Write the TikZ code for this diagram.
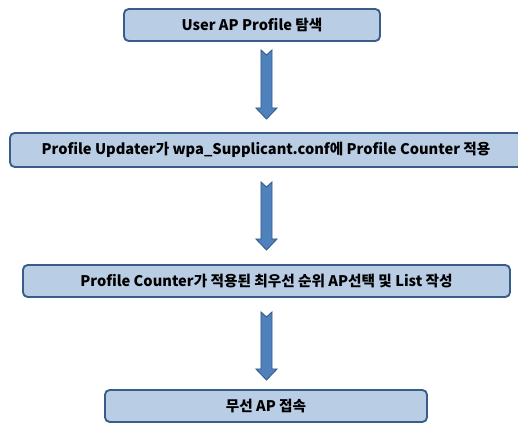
\documentclass[tikz,border=0pt]{standalone}
\usepackage{fontspec}
\setmainfont{Noto Sans CJK KR}
\usetikzlibrary{calc}
\definecolor{boxfill}{RGB}{185,205,229}
\definecolor{boxline}{RGB}{56,93,138}
\definecolor{arrfill}{RGB}{79,129,189}
\tikzset{stepbox/.style={draw=boxline,fill=boxfill,line width=1.6pt,rounded corners=4pt,minimum height=0.96cm,inner sep=0,font=\fontsize{12.5}{14}\selectfont\bfseries},
arrowbody/.style={draw=boxline,fill=arrfill,line width=0.8pt,line join=miter}}
\newcommand\flowarrow[2]{\draw[arrowbody]let\p1=(#1),\p2=(#2)in(\x1-4.7pt,\y1)--(\x1,\y1-4.3pt)--(\x1+4.7pt,\y1)--(\x1+4.7pt,\y2+9.4pt)--(\x1+9pt,\y2+9.4pt)--(\x2,\y2)--(\x1-9pt,\y2+9.4pt)--(\x1-4.7pt,\y2+9.4pt)--cycle;}

\begin{document}
\begin{tikzpicture}[x=0.03cm,y=-0.03cm]
\useasboundingbox(0,0)rectangle(518,423);
\begin{scope}[every node/.style={stepbox}]\node[minimum width=7.68cm](search)at(252,25){User AP Profile 탐색};\node[minimum width=15.36cm,minimum height=1.02cm](update)at(266,150){Profile Updater가 wpa\_Supplicant.conf에 Profile Counter 적용};\node[minimum width=14.61cm](select)at(266.5,281){Profile Counter가 적용된 최우선 순위 AP선택 및 List 작성};\node[minimum width=9.66cm](connect)at(266,406){무선 AP 접속};\end{scope}
\coordinate(t1)at(266.5,50);\coordinate(h1)at(266.5,119);\coordinate(t2)at(266.5,182);\coordinate(h2)at(266.5,250);\coordinate(t3)at(266.5,312);\coordinate(h3)at(266.5,380);
\flowarrow{t1}{h1}\flowarrow{t2}{h2}\flowarrow{t3}{h3}
\end{tikzpicture}
\end{document}
